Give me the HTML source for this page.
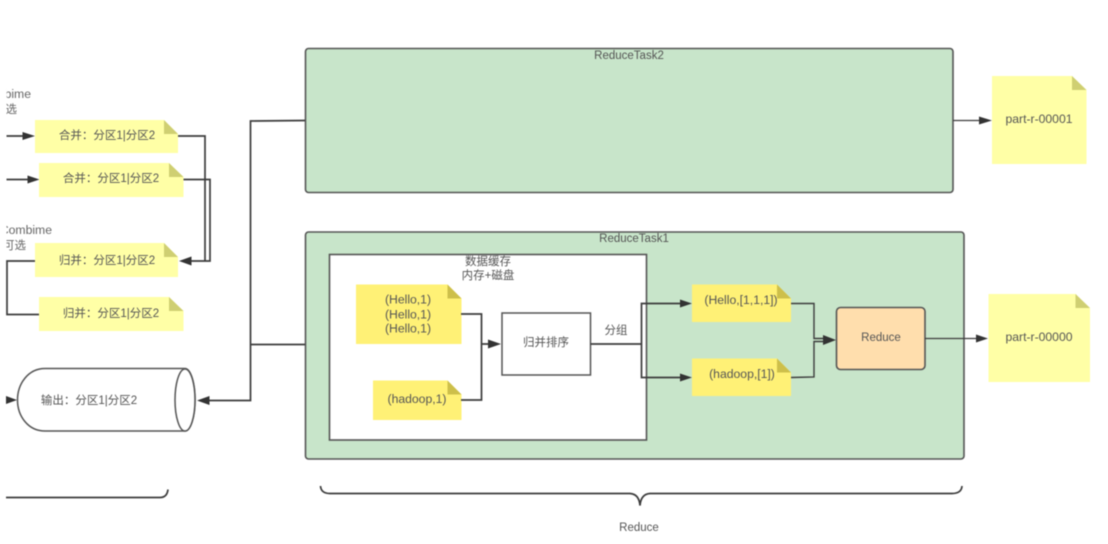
<!DOCTYPE html>
<html lang="zh"><head><meta charset="utf-8"><title>Reduce</title>
<style>
html,body{margin:0;padding:0;background:#fff;width:1108px;height:544px;overflow:hidden}
svg{display:block;filter:blur(.55px)}
text{font-family:"Liberation Sans","Noto Sans CJK SC",sans-serif;font-size:11.5px;fill:#555;text-anchor:middle}
text.b{font-size:12.2px}
.l{fill:none;stroke:#3c3c3c;stroke-width:1.7}
.h{fill:#333}
</style></head><body>
<svg width="1108" height="544" viewBox="0 0 1108 544" xmlns="http://www.w3.org/2000/svg">
<rect width="1108" height="544" fill="#fff"/>

<!-- Task containers -->
<rect x="305.500" y="48.500" width="647.500" height="144" rx="3" fill="#c8e5ca" stroke="#555" stroke-width="1.600"/>
<rect x="305.500" y="232" width="658.500" height="227" rx="3" fill="#c8e5ca" stroke="#555" stroke-width="1.600"/>
<text x="629" y="59">ReduceTask2</text>
<text x="634" y="242">ReduceTask1</text>
<rect x="329.500" y="254.500" width="317" height="185.500" fill="#fff" stroke="#555" stroke-width="1.600"/>
<text x="488" y="265">数据缓存</text>
<text x="488" y="279">内存+磁盘</text>

<!-- Left connectors -->
<path class="l" d="M6 136H30M6 179.500H34M178 136H205V261H185M183 179.500H210V261H185M35 261H7V314.500H39"/>
<path class="h" d="M22.500 132L35 136L22.500 140ZM27.500 175.500L39.500 179.500L27.500 183.500ZM179 261L191.500 256.500V265.500Z"/>

<!-- Left notes -->
<path d="M35 120H164L178 134V153H35Z" fill="#ffffa6"/><path d="M164 120L178 134H164Z" fill="#cfcf72"/>
<path d="M39 163H169L183.500 177V197H39Z" fill="#ffffa6"/><path d="M169 163L183.500 177H169Z" fill="#cfcf72"/>
<path d="M35 243H164L178 257V277H35Z" fill="#ffffa6"/><path d="M164 243L178 257H164Z" fill="#cfcf72"/>
<path d="M39 297H169L183.500 311V331H39Z" fill="#ffffa6"/><path d="M169 297L183.500 311H169Z" fill="#cfcf72"/>
<text x="107" y="139">合并：分区1|分区2</text>
<text x="111" y="182">合并：分区1|分区2</text>
<text x="107" y="264">归并：分区1|分区2</text>
<text x="111" y="317">归并：分区1|分区2</text>

<text class="b" x="31" y="98" style="text-anchor:end;fill:#666">Combime</text>
<text x="17" y="113" style="text-anchor:end;fill:#666">可选</text>
<text class="b" x="52" y="234" style="text-anchor:end;fill:#666">Combime</text>
<text x="26" y="249" style="text-anchor:end;fill:#666">可选</text>
<rect x="0" y="85" width="6.500" height="170" fill="#fff"/>

<!-- Cylinder -->
<path d="M45 368.500H185A10 31 0 0 1 185 431H45C28 431 17.500 416 17.500 400S28 368.500 45 368.500Z" fill="#fff" stroke="#555" stroke-width="1.500"/>
<ellipse cx="185" cy="400" rx="10" ry="31" fill="#fff" stroke="#555" stroke-width="1.500"/>
<text x="89" y="404">输出：分区1|分区2</text>
<path class="h" d="M6 396L17 400L6 404Z"/>

<!-- Output line to cylinder -->
<path class="l" d="M305 120.500L250.500 121V400.500H205M305 344.500H250.500"/>
<path class="h" d="M197 400.500L209.500 396V405Z"/>

<!-- Inside ReduceTask1 -->
<path d="M356 284.500H447.500L461.500 298.500V344H356Z" fill="#fff176"/><path d="M447.500 284.500L461.500 298.500H447.500Z" fill="#cdbf4a"/>
<path d="M373 380.500H447.500L461.500 394.500V420H373Z" fill="#fff176"/><path d="M447.500 380.500L461.500 394.500H447.500Z" fill="#cdbf4a"/>
<text class="b" x="408" y="303.500">(Hello,1)</text>
<text class="b" x="408" y="318.500">(Hello,1)</text>
<text class="b" x="408" y="332.500">(Hello,1)</text>
<text class="b" x="417" y="403">(hadoop,1)</text>
<path class="l" d="M461 314H481.500V400H461M481.500 344H495"/>
<path class="h" d="M488 339.500L501 344L488 348.500Z"/>
<rect x="502" y="313" width="88.500" height="62" fill="#fff" stroke="#555" stroke-width="1.500"/>
<text x="546" y="346">归并排序</text>
<text x="616" y="334">分组</text>
<path class="l" d="M590.500 344H641M681 303.500H641.500V377.500H681"/>
<path class="h" d="M680 299.500L692 303.500L680 307.500ZM680 373.500L692 377.500L680 381.500Z"/>
<path d="M692 284.500H777L791 298.500V322H692Z" fill="#fff176"/><path d="M777 284.500L791 298.500H777Z" fill="#cdbf4a"/>
<path d="M692 358.500H777L791 372.500V396H692Z" fill="#fff176"/><path d="M777 358.500L791 372.500H777Z" fill="#cdbf4a"/>
<text class="b" x="741" y="304">(Hello,[1,1,1])</text>
<text class="b" x="742" y="378">(hadoop,[1])</text>
<path d="M791 303.500H814V338.500H828M791 377.500L814 377V341.500H828" fill="none" stroke="#3c3c3c" stroke-width="1.400"/>
<path class="h" d="M823 335L836 340L823 345Z"/>
<rect x="836.500" y="307.500" width="88.500" height="62" rx="4" fill="#ffdead" stroke="#555" stroke-width="1.600"/>
<text x="881" y="341">Reduce</text>

<!-- Right outputs -->
<path class="l" d="M925 338.500H980M953 120.500H984" style="stroke-width:1.300"/>
<path class="h" d="M976 334.500L988 338.500L976 342.500ZM979 116.500L992 120.500L979 124.500Z"/>
<path d="M988.500 294H1075.500L1090 308V382H988.500Z" fill="#ffffa6"/><path d="M1075.500 294L1090 308H1075.500Z" fill="#cfcf72"/>
<path d="M992 76H1072L1086.500 90V164H992Z" fill="#ffffa6"/><path d="M1072 76L1086.500 90H1072Z" fill="#cfcf72"/>
<text class="b" x="1039" y="341">part-r-00000</text>
<text class="b" x="1039" y="123">part-r-00001</text>

<!-- Braces -->
<path class="l" d="M6 497.500H160Q167 497.500 168 489.500"/>
<path class="l" d="M320.500 486Q321 493.500 330 493.500H552H630Q639 494 640 505.500Q641 494 650 493.500H952Q961.500 493.500 962 486"/>
<text x="639" y="531">Reduce</text>
</svg>
</body></html>
